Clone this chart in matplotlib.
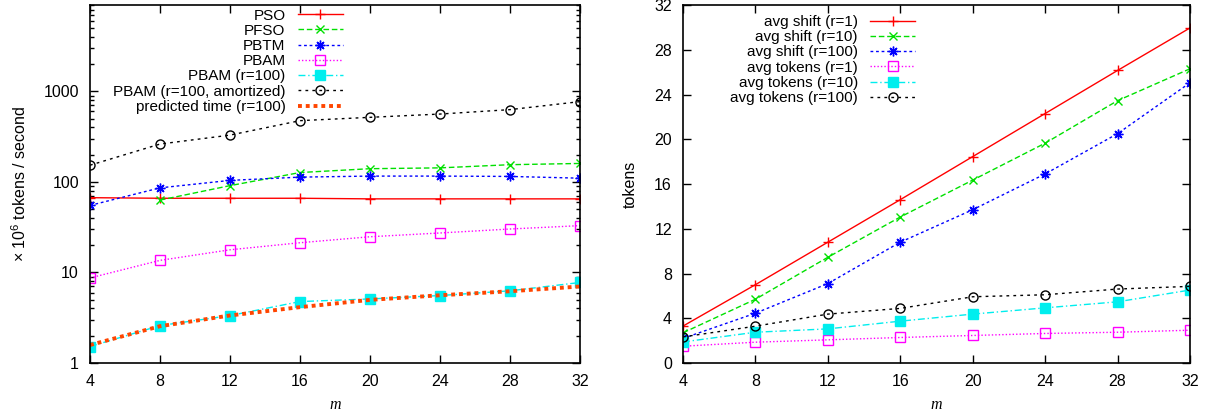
import numpy as np
import matplotlib
matplotlib.use("Agg")
import matplotlib.pyplot as plt
from matplotlib.ticker import FixedLocator, NullFormatter, FuncFormatter

plt.rcParams['font.family'] = ['Liberation Sans', 'DejaVu Sans']
plt.rcParams['font.size'] = 11.5
plt.rcParams['mathtext.default'] = 'regular'

m = [4, 8, 12, 16, 20, 24, 28, 32]

# left panel: throughput (x 10^6 tokens / second)
pso = [67, 66, 66, 66, 65, 65, 65, 65]
pfso_m = [8, 12, 16, 20, 24, 28, 32]
pfso = [63, 91, 127, 140, 143, 155, 160]
pbtm = [55, 86, 104, 113, 116, 116, 115, 110]
pbam = [8.7, 13.6, 17.8, 21.3, 24.8, 27.3, 30.2, 32.9]
pbam_r100 = [1.52, 2.59, 3.34, 4.77, 5.1, 5.56, 6.27, 7.75]
pbam_amort = [153, 262, 329, 475, 517, 562, 629, 771]
predicted = [1.58, 2.55, 3.35, 4.14, 4.98, 5.6, 6.2, 7.0]

# right panel: tokens
shift_r1 = [3.3, 7.0, 10.8, 14.6, 18.45, 22.3, 26.15, 29.95]
shift_r10 = [2.7, 5.7, 9.45, 13.05, 16.35, 19.65, 23.45, 26.3]
shift_r100 = [2.2, 4.45, 7.1, 10.8, 13.7, 16.9, 20.5, 25.05]
tok_r1 = [1.5, 1.86, 2.07, 2.28, 2.46, 2.64, 2.75, 2.93]
tok_r10 = [1.88, 2.75, 3.05, 3.74, 4.37, 4.93, 5.47, 6.52]
tok_r100 = [2.33, 3.29, 4.37, 4.88, 5.92, 6.1, 6.61, 6.85]

W, H = 1211, 412
fig = plt.figure(figsize=(W / 100, H / 100), dpi=100)
ax1 = fig.add_axes([90 / W, 49 / H, 490 / W, 358 / H])
ax2 = fig.add_axes([683 / W, 49 / H, 507 / W, 358 / H])

asterisk = (8, 2, 0)

ax1.plot(m, pso, color='#ff0000', lw=1.0, ls='-', marker='+', ms=7, mew=1.0, label='PSO')
ax1.plot(pfso_m, pfso, color='#00e000', lw=1.0, ls=(0, (4, 2)), marker='x', ms=6, mew=1.0, label='PFSO')
ax1.plot(m, pbtm, color='#0000ff', lw=1.0, ls=(0, (2, 2)), marker=asterisk, ms=7, mew=1.0, label='PBTM')
ax1.plot(m, pbam, color='#ff00ff', lw=1.0, ls=(0, (1, 1.5)), marker='s', ms=6.5, mfc='none', mew=1.0, label='PBAM')
ax1.plot(m, pbam_r100, color='#00eeee', lw=1.0, ls=(0, (5, 2, 1, 2)), marker='s', ms=6.5, label='PBAM (r=100)')
ax1.plot(m, pbam_amort, color='#000000', lw=1.0, ls=(0, (2, 3)), marker='o', ms=6.5, mfc='none', mew=1.0,
         label='PBAM (r=100, amortized)')
ax1.plot(m, predicted, color='#ff4500', lw=2.8, ls=(0, (1, 1)), label='predicted time (r=100)')

ax1.set_yscale('log')
ax1.set_xlim(4, 32)
ax1.set_ylim(1, 9000)
ax1.set_xticks(m)
ax1.yaxis.set_major_locator(FixedLocator([1, 10, 100, 1000]))
ax1.yaxis.set_major_formatter(FuncFormatter(lambda v, p: '%g' % v))
ax1.yaxis.set_minor_formatter(NullFormatter())
ax1.set_ylabel('× 10$^6$ tokens / second', labelpad=10)
ax1.legend(loc='upper right', bbox_to_anchor=(0.516, 0.99), frameon=False, markerfirst=False, fontsize=11,
           handlelength=2.95, handletextpad=0.8, labelspacing=0.08, borderpad=0, borderaxespad=0)

ax2.plot(m, shift_r1, color='#ff0000', lw=1.0, ls='-', marker='+', ms=7, mew=1.0, label='avg shift (r=1)')
ax2.plot(m, shift_r10, color='#00e000', lw=1.0, ls=(0, (4, 2)), marker='x', ms=6, mew=1.0, label='avg shift (r=10)')
ax2.plot(m, shift_r100, color='#0000ff', lw=1.0, ls=(0, (2, 2)), marker=asterisk, ms=7, mew=1.0,
         label='avg shift (r=100)')
ax2.plot(m, tok_r1, color='#ff00ff', lw=1.0, ls=(0, (1, 1.5)), marker='s', ms=6.5, mfc='none', mew=1.0,
         label='avg tokens (r=1)')
ax2.plot(m, tok_r10, color='#00eeee', lw=1.0, ls=(0, (5, 2, 1, 2)), marker='s', ms=6.5, label='avg tokens (r=10)')
ax2.plot(m, tok_r100, color='#000000', lw=1.0, ls=(0, (2, 3)), marker='o', ms=6.5, mfc='none', mew=1.0,
         label='avg tokens (r=100)')

ax2.set_xlim(4, 32)
ax2.set_ylim(0, 32)
ax2.set_xticks(m)
ax2.set_yticks(np.arange(0, 33, 4))
ax2.set_ylabel('tokens', labelpad=12)
ax2.legend(loc='upper right', bbox_to_anchor=(0.458, 0.972), frameon=False, markerfirst=False, fontsize=11,
           handlelength=2.95, handletextpad=0.8, labelspacing=0.08, borderpad=0, borderaxespad=0)

for ax in (ax1, ax2):
    ax.tick_params(which='major', direction='in', length=6, width=1, top=True, right=True, pad=8)
    ax.tick_params(which='minor', direction='in', length=3, width=1, top=True, right=True)
    for s in ax.spines.values():
        s.set_linewidth(1.2)
    ax.set_xlabel('m', family='Liberation Serif', style='italic', fontsize=11.5, labelpad=6)

fig.savefig('out.png', dpi=100)
